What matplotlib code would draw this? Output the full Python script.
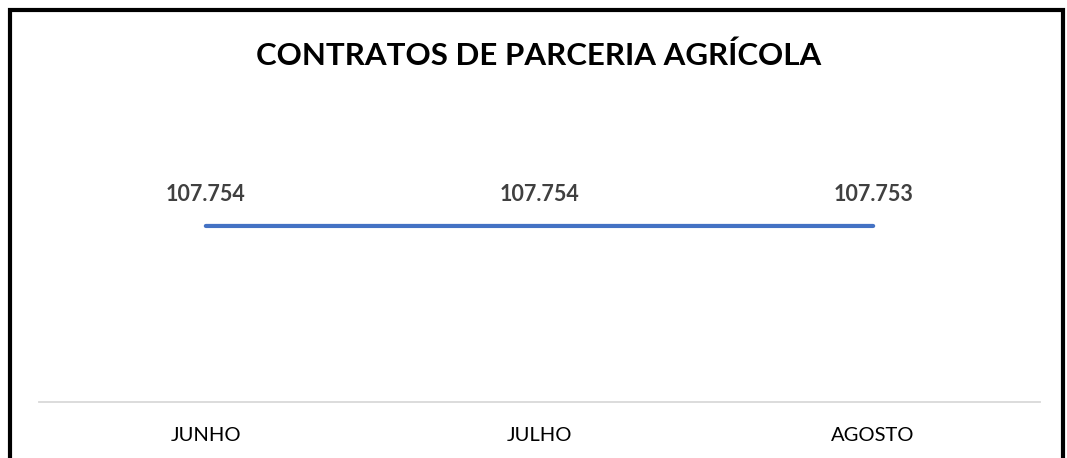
import matplotlib.pyplot as plt
from matplotlib.patches import Rectangle

# data
months = ['JUNHO', 'JULHO', 'AGOSTO']
contracts = [107754, 107754, 107753]
value_labels = ['107.754', '107.754', '107.753']

plt.rcParams['font.family'] = ['Lato', 'DejaVu Sans']

fig = plt.figure(figsize=(10.67, 4.58), dpi=100)
ax = fig.add_axes([39 / 1067, 56 / 458, 1001 / 1067, 272 / 458])

x = range(len(months))
ax.plot(x, contracts, color='#4472C4', lw=3, solid_capstyle='round')

for xi, v, lab in zip(x, contracts, value_labels):
    ax.annotate(lab, (xi, v), xytext=(0, 15), textcoords='offset points',
                ha='center', va='bottom', fontsize=15.5, fontweight='bold',
                color='#404040')

ax.set_xlim(-0.5, len(months) - 0.5)
ax.set_ylim(0, 166500)
ax.set_xticks(list(x))
ax.set_xticklabels(months, fontsize=14.5, color='#000000')
ax.tick_params(axis='x', length=0, pad=18)
ax.set_yticks([])
for side in ['top', 'left', 'right']:
    ax.spines[side].set_visible(False)
ax.spines['bottom'].set_color('#D9D9D9')
ax.spines['bottom'].set_linewidth(1.3)

fig.text(539 / 1067, 1 - 56 / 458, 'CONTRATOS DE PARCERIA AGRÍCOLA',
         ha='center', va='center', fontsize=22.5, fontweight='bold', color='black')

# black frame around the chart
fig.patches.append(Rectangle((10 / 1067, -0.05), 1053 / 1067, 1.05 - 10 / 458,
                             transform=fig.transFigure, fill=False,
                             ec='black', lw=3))

fig.savefig('out.png', dpi=100, facecolor='white')
